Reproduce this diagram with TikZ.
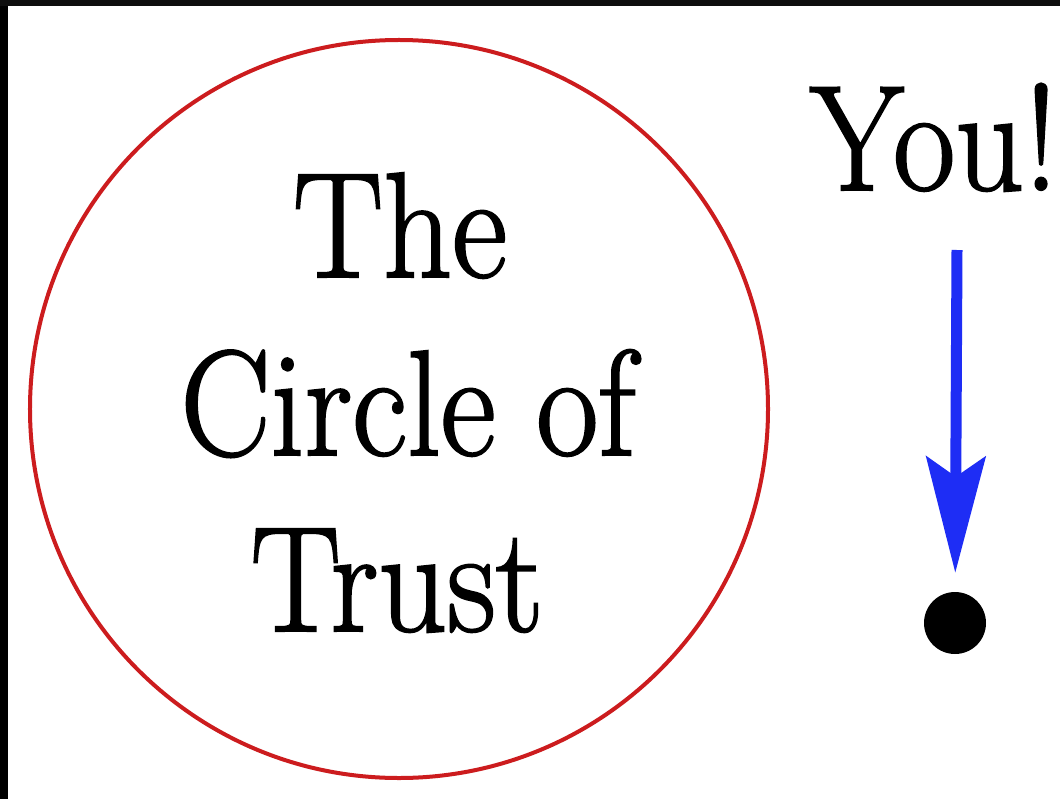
\documentclass[tikz,border=0pt]{standalone}
\usepackage{fontspec}
\newfontfamily\heavyserif{Latin Modern Roman}[FakeBold=1.5]
\usetikzlibrary{arrows.meta}
\definecolor{trustred}{RGB}{204,28,30}
\definecolor{arrowblue}{RGB}{30,45,245}
\definecolor{framegray}{RGB}{14,14,14}
\newcommand{\widetext}[1]{\scalebox{0.9}[1]{#1}}
\begin{document}
\begin{tikzpicture}[x=1bp,y=-1bp,
  bigtext/.style={font=\heavyserif\fontsize{150bp}{178bp}\selectfont, inner sep=0pt},
  ring/.style={draw=trustred, line width=4bp, circle, minimum size=738bp, inner sep=0pt},
  spot/.style={circle, fill=black, minimum size=62bp, inner sep=0pt},
  pointer/.style={arrowblue, line width=11bp, -{Stealth[length=116bp,width=59bp,inset=20bp]}}]
\useasboundingbox (0,0) rectangle (1060,799);
\fill[white] (0,0) rectangle (1060,799);
\fill[black] (0,0) rectangle (8,799);
\fill[framegray] (0,0) rectangle (1060,6);
\node[ring] (circ) at (399,409) {};
\node[bigtext, anchor=base] (the) at (400,277) {\widetext{The}};
\node[bigtext, anchor=base] (circleof) at (408,455) {\widetext{Circle of}};
\node[bigtext, anchor=base] (trust) at (397,631) {\widetext{Trust}};
\node[bigtext, anchor=base east] (you) at (1058,190) {\widetext{You!}};
\node[spot] (dot) at (955,623) {};
\coordinate (arrowstart) at (957,250);
\draw[pointer, shorten >=19bp] (arrowstart) -- (dot);
\end{tikzpicture}
\end{document}
